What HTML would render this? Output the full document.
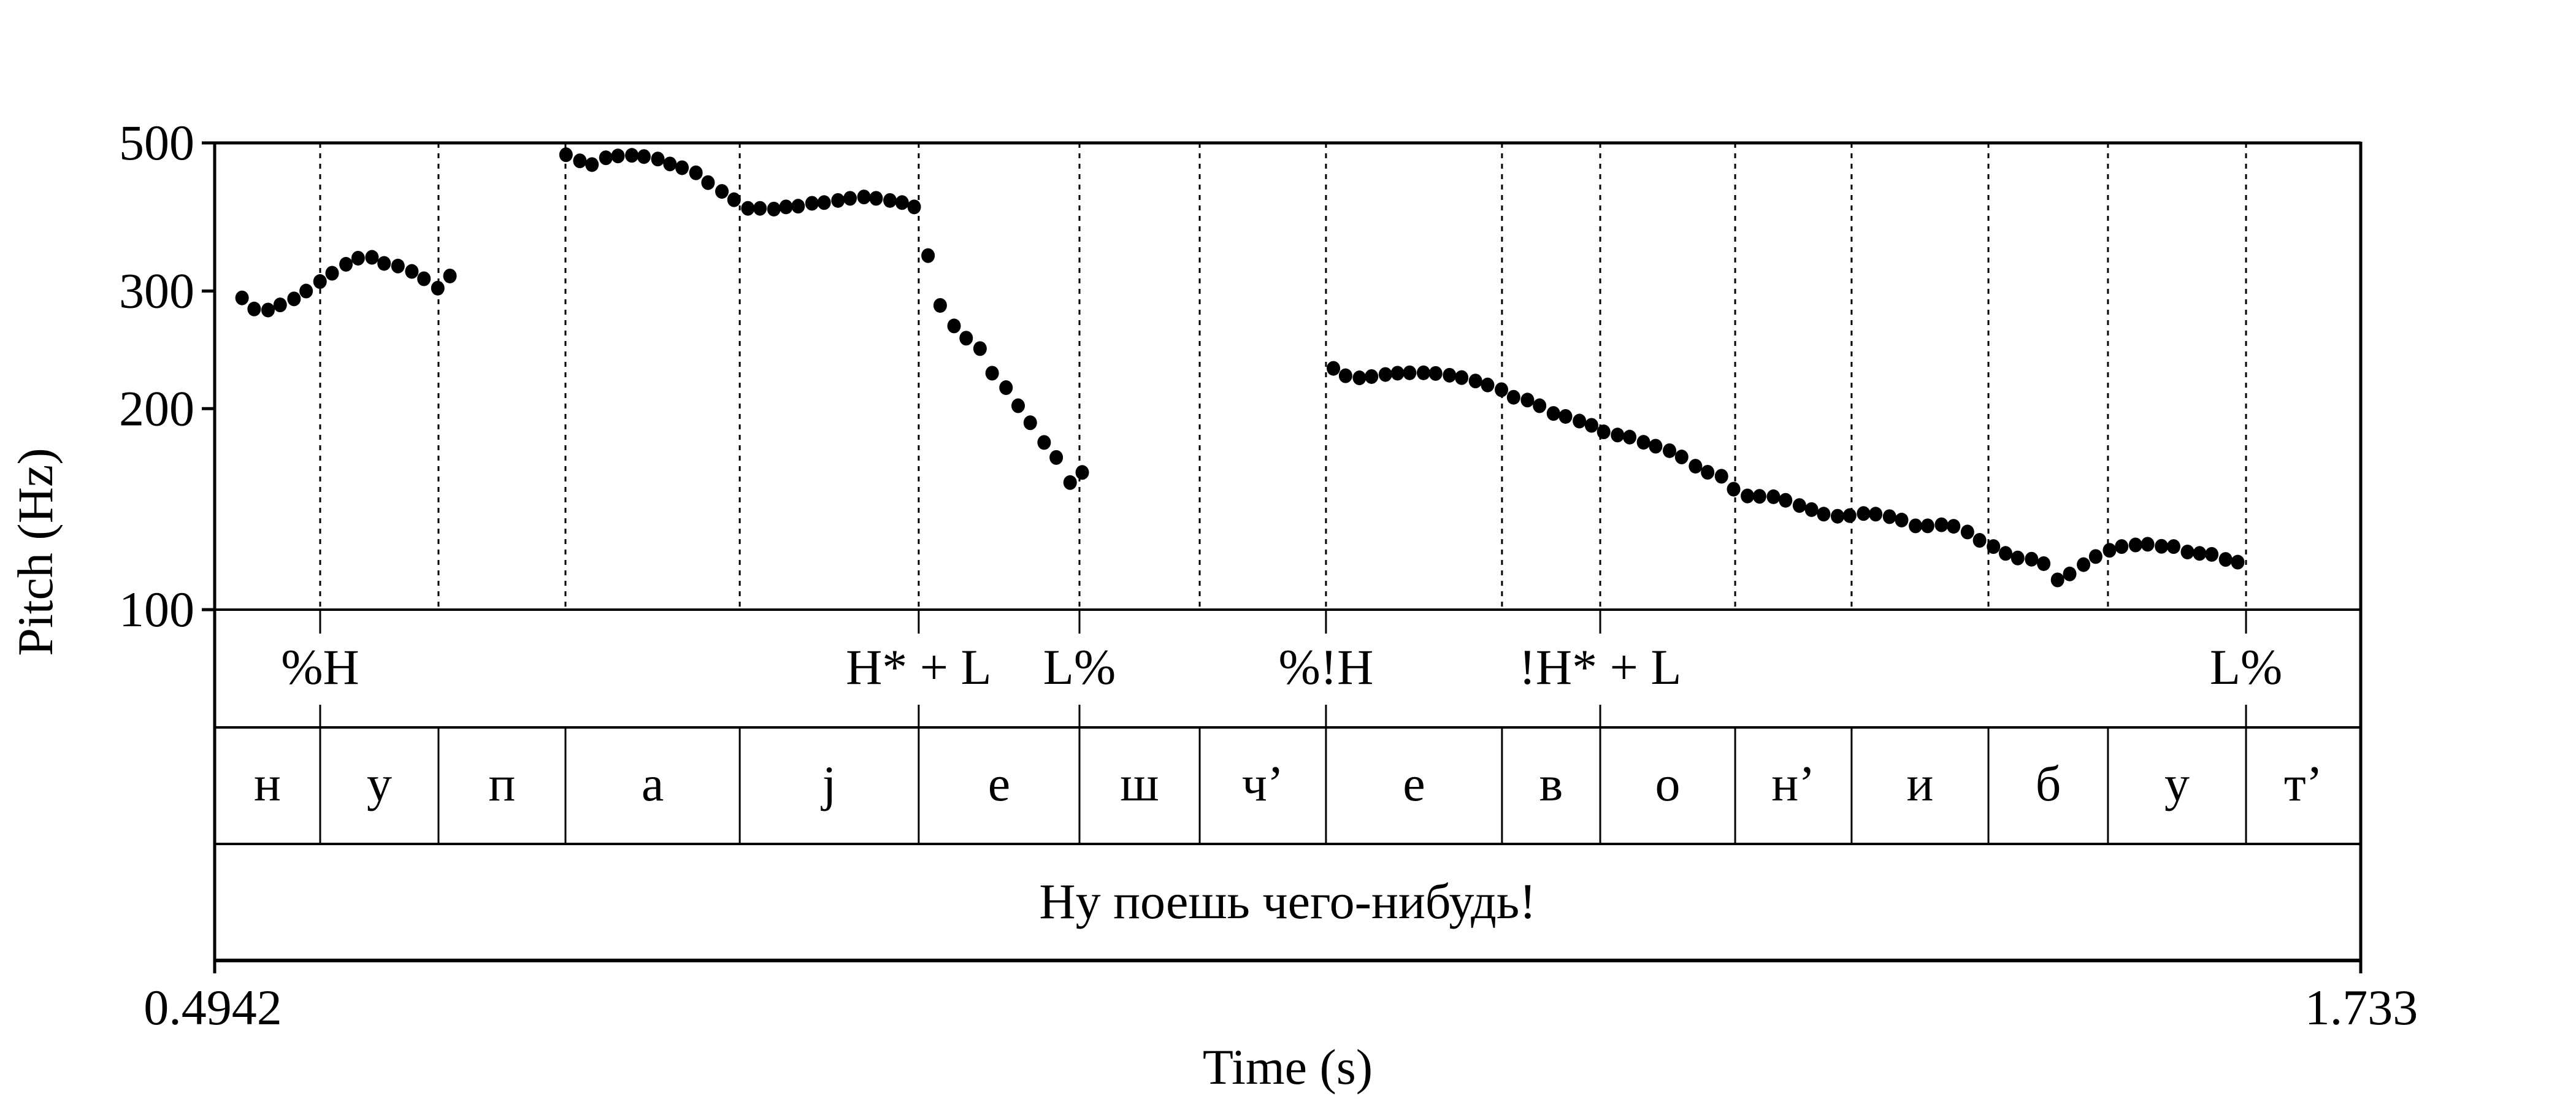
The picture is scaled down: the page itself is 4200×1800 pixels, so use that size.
<!DOCTYPE html>
<html><head><meta charset="utf-8">
<style>
html,body{margin:0;padding:0;background:#fff;}
svg{display:block;}
text{font-family:"Liberation Serif","Noto Serif CJK SC",serif;fill:#000;}
</style></head>
<body>
<svg id="chart" xmlns="http://www.w3.org/2000/svg" width="4200" height="1800" viewBox="0 0 4200 1800">
<rect x="0" y="0" width="4200" height="1800" fill="#fff"/>
<g id="grid"></g>
<g id="dots"></g>
<g id="frame"></g>
<g id="labels"></g>
</svg>
<script>
// ---- data ----
const tMin = 0.4942, tMax = 1.733;
const fMin = 100, fMax = 500;
const yTicks = [500, 300, 200, 100];
const yTickLabels = ["500", "300", "200", "100"];
const xTickLabels = ["0.4942", "1.733"];
const boundaries = [0.5551,0.6234,0.6967,0.7973,0.9006,0.9934,1.0628,1.1357,1.2373,1.2940,1.3719,1.4391,1.5181,1.5871,1.6668];
const segLabels = ["н","у","п","а","j","е","ш","ч’","е","в","о","н’","и","б","у","т’"];
const toneTimes = [0.5551,0.9006,0.9934,1.1357,1.2940,1.6668];
const toneLabels = ["%H","H* + L","L%","%!H","!H* + L","L%"];
const sentence = "Ну поешь чего-нибудь!";

const seg1T = [0.510,0.517,0.525,0.532,0.540,0.547,0.555,0.562,0.570,0.577,0.585,0.592,0.600,0.608,0.615,0.623,0.630];
const seg1F = [293,282,281,286,292,300,310,319,329,336,337,330,327,321,313,303,316];
const seg2T = [0.697,0.705,0.712,0.720,0.727,0.735,0.742,0.750,0.757,0.764,0.772,0.779,0.787,0.794,0.802,0.809,0.817,0.824,0.831,0.839,0.846,0.854,0.861,0.869,0.876,0.884,0.891,0.898,0.906,0.913,0.921,0.928,0.936,0.943,0.951,0.958,0.965,0.973,0.980,0.988,0.995];
const seg2F = [480,470,464,475,478,479,477,473,465,459,451,436,423,411,399,399,398,401,402,406,407,410,413,415,413,410,407,401,339,285.5,266,255,246,226,215,202,190.5,178,169,155,160.5];
const seg3T = [1.140,1.147,1.155,1.162,1.170,1.177,1.184,1.192,1.199,1.207,1.214,1.222,1.229,1.237,1.244,1.252,1.259,1.267,1.274,1.282,1.289,1.296,1.304,1.311,1.319,1.326,1.334,1.341,1.349,1.356,1.364,1.371,1.379,1.386,1.394,1.401,1.409,1.416,1.423,1.431,1.438,1.446,1.453,1.461,1.468,1.476,1.483,1.491,1.498,1.506,1.513,1.521,1.528,1.535,1.543,1.550,1.558,1.565,1.573,1.580,1.588,1.595,1.603,1.610,1.618,1.625,1.633,1.640,1.647,1.655,1.662];
const seg3F = [229.8,224,222.4,223.4,225,226,226.3,226.3,225.8,224.4,222.6,220,217,213.5,208,206,202,196.7,194.7,191.6,188.8,184.6,182.6,181.3,178.1,175.7,173,169.3,164,160.6,158.4,151.5,148,147.8,147.6,145.8,143.2,141.2,139,138,138.3,139.3,139,137.8,136.2,133.5,133.5,134,133.3,130.7,127,124.3,121.4,119.5,119,117.2,110.8,113.1,116.8,120.1,122.7,124.3,125,125.3,124.4,124.3,122,121.4,121,118.9,117.8];

// ---- layout ----
const L = 350, R = 3849, T = 233, P = 994;
const tier1B = 1186, tier2B = 1376, tier3B = 1566;
const NS = "http://www.w3.org/2000/svg";
function x(t){ return L + (t - tMin) / (tMax - tMin) * (R - L); }
function y(f){ return T + (P - T) * Math.log(fMax / f) / Math.log(fMax / fMin); }
function mk(tag, attrs, parent){
  const e = document.createElementNS(NS, tag);
  for (const k in attrs) e.setAttribute(k, attrs[k]);
  parent.appendChild(e);
  return e;
}
const grid = document.getElementById('grid');
const dots = document.getElementById('dots');
const frame = document.getElementById('frame');
const labels = document.getElementById('labels');

// dotted boundary lines in pitch area
boundaries.forEach(b => {
  const ln = mk('line', {x1:x(b), x2:x(b), y1:T, y2:P, stroke:'#000', 'stroke-width':3, 'stroke-dasharray':'8 9'}, grid);
  
  
});

// pitch points
[[seg1T,seg1F],[seg2T,seg2F],[seg3T,seg3F]].forEach(([ts,fs]) => {
  ts.forEach((t,i) => {
    const c = mk('ellipse', {cx:x(t), cy:y(fs[i]), rx:11, ry:12, fill:'#000'}, dots);
    
    
  });
});

// frame lines
function hl(y0, w, name){
  const e = mk('line', {x1:L, x2:R, y1:y0, y2:y0, stroke:'#000', 'stroke-width':w}, frame);
  
  
}
hl(T, 5, 'plot-top-border');
hl(P, 4, 'pitch-bottom-border');
hl(tier1B, 4, 'tone-tier-bottom');
hl(tier2B, 4, 'segment-tier-bottom');
hl(tier3B, 6, 'sentence-tier-bottom');
const la = mk('line', {x1:L, x2:L, y1:T-2, y2:1587, stroke:'#000', 'stroke-width':5}, frame);


const ra = mk('line', {x1:R, x2:R, y1:T-2, y2:1587, stroke:'#000', 'stroke-width':5}, frame);



// y ticks
yTicks.forEach((f,i) => {
  const tk = mk('line', {x1:329, x2:L, y1:y(f), y2:y(f), stroke:'#000', 'stroke-width':5}, frame);
  
  
  const tx = mk('text', {x:317, y:y(f)+27, 'font-size':82, 'text-anchor':'end'}, labels);
  tx.textContent = yTickLabels[i];
  
  
});

// segment boundaries
boundaries.forEach(b => {
  const ln = mk('line', {x1:x(b), x2:x(b), y1:tier1B, y2:tier2B, stroke:'#000', 'stroke-width':3}, frame);
  
  
});
const edges = [tMin].concat(boundaries, [tMax]);
segLabels.forEach((s,i) => {
  const cx = (x(edges[i]) + x(edges[i+1])) / 2;
  const tx = mk('text', {x:cx, y:1305, 'font-size':82, 'text-anchor':'middle'}, labels);
  tx.textContent = s;
  
  
});

// tone points
toneTimes.forEach((t,i) => {
  const a = mk('line', {x1:x(t), x2:x(t), y1:P, y2:1033, stroke:'#000', 'stroke-width':3}, frame);
  
  
  const b = mk('line', {x1:x(t), x2:x(t), y1:1149, y2:tier1B, stroke:'#000', 'stroke-width':3}, frame);
  
  
  const tx = mk('text', {x:x(t), y:1115, 'font-size':82, 'text-anchor':'middle'}, labels);
  tx.textContent = toneLabels[i];
  
  
});

// sentence
const st = mk('text', {x:(L+R)/2, y:1497, 'font-size':82, 'text-anchor':'middle'}, labels);
st.textContent = sentence;



// x tick labels
const xl = mk('text', {x:L-3, y:1670, 'font-size':82, 'text-anchor':'middle'}, labels);
xl.textContent = xTickLabels[0];


const xr = mk('text', {x:R+1, y:1670, 'font-size':82, 'text-anchor':'middle'}, labels);
xr.textContent = xTickLabels[1];



// axis titles
const xt = mk('text', {x:(L+R)/2, y:1767, 'font-size':82, 'text-anchor':'middle'}, labels);
xt.textContent = "Time (s)";


const yt = mk('text', {x:0, y:0, 'font-size':82, 'text-anchor':'middle', transform:'translate(85,900) rotate(-90)'}, labels);
yt.textContent = "Pitch (Hz)";


</script>
</body></html>
